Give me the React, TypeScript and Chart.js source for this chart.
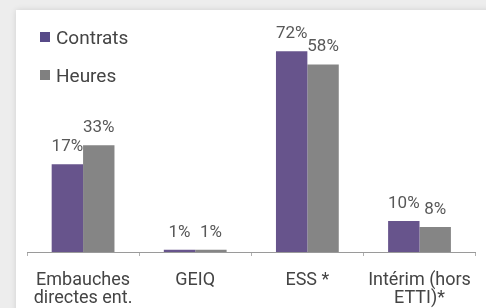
import React, { useEffect, useRef } from "react";
import { Chart, registerables } from "chart.js";
Chart.register(...registerables);

const categories: (string | string[])[] = [["Embauches", "directes ent."], "GEIQ", "ESS *", ["Intérim (hors", "ETTI)*"]];
const seriesNames = ["Contrats", "Heures"];
// printed value labels
const contratsLabels = ["17%", "1%", "72%", "10%"];
const heuresLabels = ["33%", "1%", "58%", "8%"];
// bar lengths as drawn in the source (the original graphic is not to scale)
const contratsValues = [31.5, 0.8, 72, 11.1];
const heuresValues = [38.3, 0.8, 67.3, 9.0];

const PURPLE = "#67548c";
const GRAY = "#858585";
const FONT = "Roboto, 'DejaVu Sans', sans-serif";

const labelPlugin = {
  id: "valueLabels",
  afterDatasetsDraw(chart: any) {
    const ctx = chart.ctx;
    const lists = [contratsLabels, heuresLabels];
    ctx.save();
    ctx.font = `17px ${FONT}`;
    ctx.fillStyle = "#585858";
    ctx.textAlign = "center";
    ctx.textBaseline = "alphabetic";
    chart.data.datasets.forEach((_: any, di: number) => {
      const meta = chart.getDatasetMeta(di);
      meta.data.forEach((bar: any, i: number) => {
        ctx.fillText(lists[di][i], bar.x, bar.y - 13);
      });
    });
    ctx.restore();
  },
};

export default function App() {
  const ref = useRef<HTMLCanvasElement>(null);
  useEffect(() => {
    if (!ref.current) return;
    const chart = new Chart(ref.current, {
      type: "bar",
      data: {
        labels: categories,
        datasets: [
          { label: seriesNames[0], data: contratsValues, backgroundColor: PURPLE, categoryPercentage: 0.56, barPercentage: 1.0 },
          { label: seriesNames[1], data: heuresValues, backgroundColor: GRAY, categoryPercentage: 0.56, barPercentage: 1.0 },
        ],
      },
      options: {
        animation: false,
        responsive: false,
        maintainAspectRatio: false,
        layout: { padding: { left: 27, right: 1, top: 29, bottom: 0 } },
        plugins: { legend: { display: false }, tooltip: { enabled: false } },
        scales: {
          y: { display: false, min: 0, max: 80 },
          x: {
            afterFit: (s: any) => { s.height = 56; },
            border: { display: true, color: "#9a9a9a", width: 1 },
            grid: { display: true, drawOnChartArea: false, drawTicks: true, tickLength: 4, color: "#b0b0b0", offset: true },
            ticks: { color: "#444", padding: 15, maxRotation: 0, autoSkip: false, font: { family: FONT, size: 18, lineHeight: 1.0 } },
          },
        },
      },
      plugins: [labelPlugin],
    });
    return () => chart.destroy();
  }, []);

  const legendItem = (name: string, color: string, top: number) => (
    <div style={{ position: "absolute", left: 40, top, height: 22, display: "flex", alignItems: "center", fontFamily: FONT, fontSize: 19, color: "#444" }}>
      <span style={{ display: "inline-block", width: 10, height: 10, background: color, marginRight: 6 }} />
      <span>{name}</span>
    </div>
  );

  return (
    <div style={{ position: "fixed", left: 0, top: 0, width: 486, height: 308, background: "#ededed", overflow: "hidden" }}>
      <div style={{ position: "absolute", left: 16, top: 10, width: 480, height: 310, background: "#fff", boxShadow: "0 0 6px rgba(0,0,0,0.12)" }} />
      <canvas ref={ref} width={486} height={308} style={{ position: "absolute", left: 0, top: 0, width: 486, height: 308 }} />
      {legendItem(seriesNames[0], "#574a88", 26)}
      {legendItem(seriesNames[1], "#808080", 64)}
    </div>
  );
}
